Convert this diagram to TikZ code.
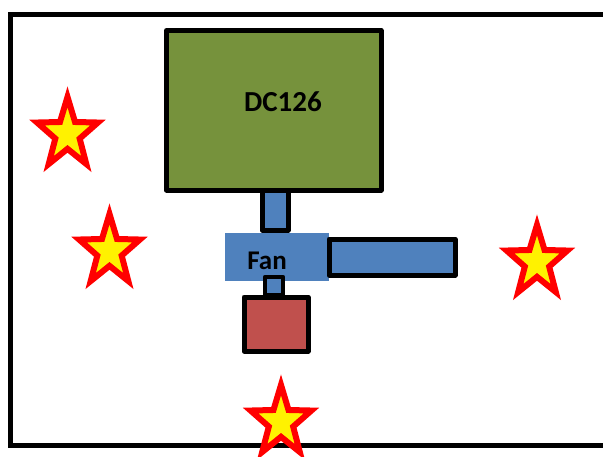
\documentclass[tikz,border=0pt]{standalone}
\usepackage{fontspec}
\setsansfont{Carlito}
\usetikzlibrary{shapes.geometric, positioning}
\definecolor{olivebox}{HTML}{76923C}
\definecolor{fanblue}{HTML}{4F81BD}
\definecolor{heatred}{HTML}{C0504D}

\begin{document}
\begin{tikzpicture}[
    x = 1pt, y = -1pt,
    box/.style={rectangle, draw, line width=5pt, inner sep=0pt, line join=round},
    spark/.style={star, star points=5, star point ratio=2.5, draw=red, fill=yellow,
        line width=6pt, inner sep=0pt, minimum size=64pt, yscale=1.16},
    lbl/.style={font=\sffamily\bfseries\fontsize{27}{32}\selectfont}
]
\clip (0,0) rectangle (603,456);
% room outline
\draw[line width=5pt] (10.5,14) rectangle (640,445);

% unit, stem, fan and duct
\node[box, fill=olivebox, minimum width=214.5pt, minimum height=159.5pt] (dc) at (273.75,110.25) {};
\node[box, fill=fanblue, minimum width=26pt, minimum height=40pt] (stem) at (275,210) {};
\node[rectangle, fill=fanblue, inner sep=0pt, minimum width=104pt, minimum height=48pt] (fan) at (277,257) {};
\node[box, fill=fanblue, minimum width=126pt, minimum height=36pt] (duct) at (392,257) {};
\node[box, fill=fanblue, line width=4.5pt, minimum width=18pt, minimum height=18pt] (neck) at (274,286) {};
\node[box, fill=heatred, minimum width=64pt, minimum height=54pt] (heater) at (276,324) {};

\node[lbl, font=\sffamily\bfseries\fontsize{29}{34}\selectfont] (dclabel) at (283,102) {DC126};
\node[lbl] (fanlabel) at (267,261) {Fan};

% sensors
\node[spark] (s1) at (67.5,134) {};
\node[spark] (s2) at (109.5,251) {};
\node[spark] (s3) at (537,262) {};
\node[spark] (s4) at (281,422) {};
\end{tikzpicture}
\end{document}
